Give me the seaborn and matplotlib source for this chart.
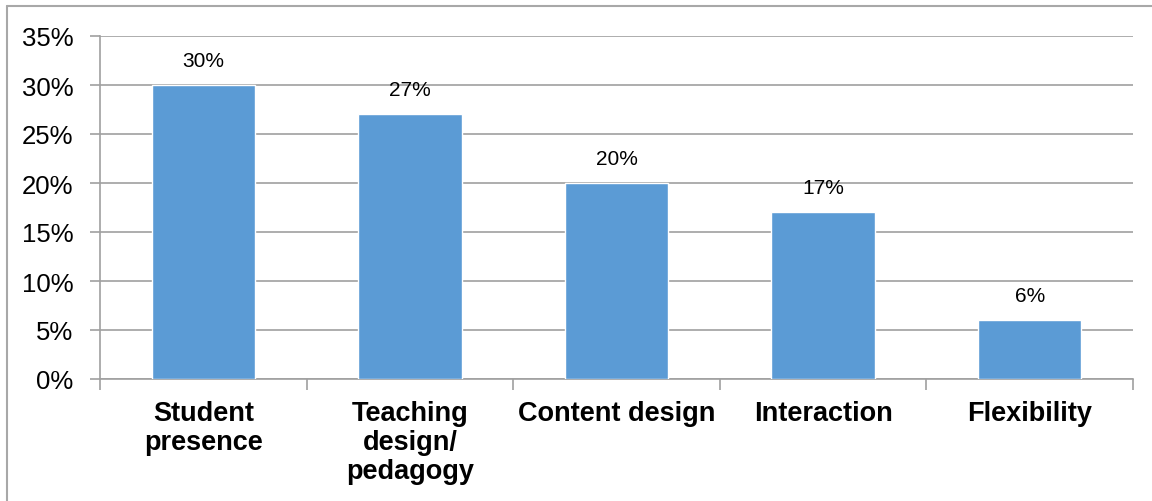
import matplotlib
matplotlib.use("Agg")
import matplotlib.pyplot as plt
import seaborn as sns
import pandas as pd
from matplotlib.lines import Line2D
from matplotlib.ticker import FixedLocator

categories = ["Student\npresence", "Teaching\ndesign/\npedagogy", "Content design", "Interaction", "Flexibility"]
values = [30, 27, 20, 17, 6]
yticks = [0, 5, 10, 15, 20, 25, 30, 35]
ytick_labels = ["0%", "5%", "10%", "15%", "20%", "25%", "30%", "35%"]

sns.set_theme(style="white")
plt.rcParams['font.family'] = ['Liberation Sans', 'DejaVu Sans']

df = pd.DataFrame({"cat": categories, "val": values})

fig = plt.figure(figsize=(11.52, 5.02), dpi=100)
ax = fig.add_axes([100/1152, 1-380/502, (1133-100)/1152, (380-37)/502])

sns.barplot(data=df, x="cat", y="val", color="#5B9BD5", saturation=1, width=0.5, ax=ax, zorder=3)

ax.set_ylim(0, 35)
ax.set_xlim(-0.5, len(categories)-0.5)
ax.set_yticks(yticks)
ax.set_yticklabels(ytick_labels, fontsize=18.5)
ax.yaxis.grid(True, color="#A0A0A0", linewidth=1.2, zorder=0)
ax.set_axisbelow(True)
ax.set_xlabel("")
ax.set_ylabel("")

for lbl in ax.get_xticklabels():
    lbl.set_fontsize(19.5)
    lbl.set_fontweight("bold")
    lbl.set_linespacing(1.15)
    lbl.set_verticalalignment("top")
    lbl.set_color("black")

ax.tick_params(axis="x", length=0, pad=15)
ax.tick_params(axis="y", length=7, width=1.2, color="#A0A0A0", direction="out", pad=12, left=True, labelcolor="black")

# boundary ticks on x axis
ax.xaxis.set_minor_locator(FixedLocator([i-0.5 for i in range(len(categories)+1)]))
ax.tick_params(axis="x", which="minor", length=8, width=1.2, color="#A0A0A0", direction="out", bottom=True)

for s in ["top", "right"]:
    ax.spines[s].set_visible(False)
for s in ["left", "bottom"]:
    ax.spines[s].set_color("#A0A0A0")
    ax.spines[s].set_linewidth(1.2)

for i, v in enumerate(values):
    ax.annotate(f"{v}%", (i, v), xytext=(0, 11), textcoords="offset points",
                ha="center", va="bottom", fontsize=15, color="black")

# figure border (top and left)
fig.add_artist(Line2D([7/1152, 1], [1-7/502, 1-7/502], transform=fig.transFigure, color="#A8A8A8", linewidth=1.5))
fig.add_artist(Line2D([7/1152, 7/1152], [0, 1-7/502], transform=fig.transFigure, color="#A8A8A8", linewidth=1.5))

fig.savefig("out.png", dpi=100)
